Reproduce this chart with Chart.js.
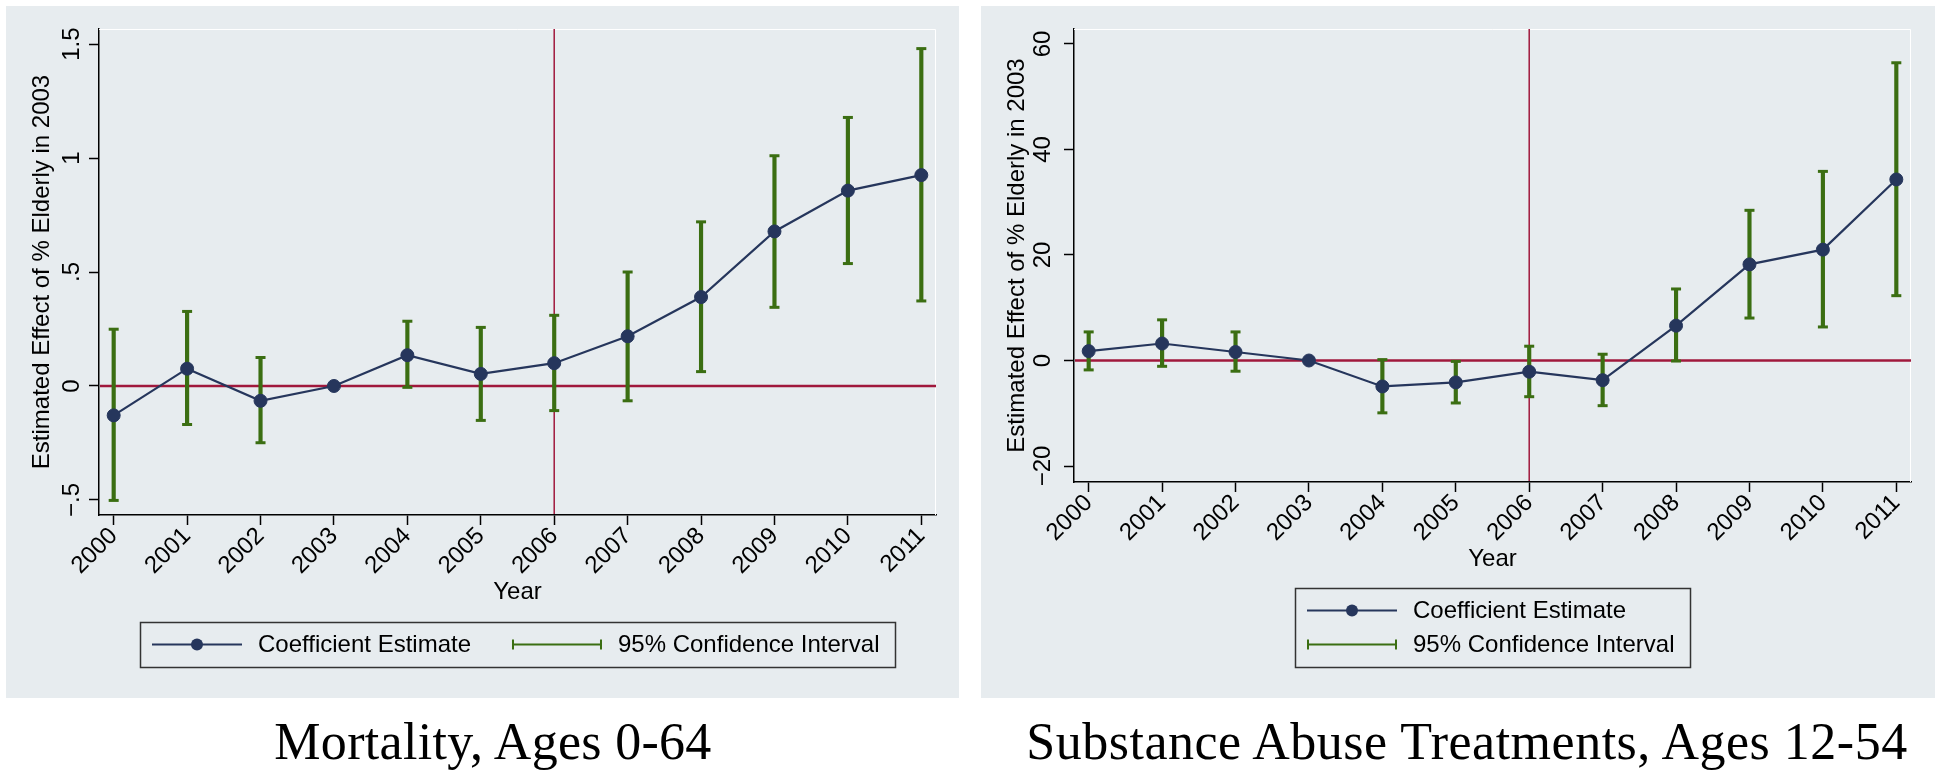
<!DOCTYPE html>
<html>
<head>
<meta charset="utf-8">
<script src="https://cdn.jsdelivr.net/npm/chart.js@4.4.0/dist/chart.umd.min.js"></script>
<style>
  body { margin: 0; background: #fff; width: 1941px; height: 776px; position: relative; overflow: hidden; }
  .panel { position: absolute; top: 6px; height: 692px; background: #e7ecef; }
  .panel canvas { display: block; }
  .caption { position: absolute; top: 716px; width: 1000px; text-align: center;
             font-family: "Liberation Serif", "Times New Roman", serif; font-size: 52px; line-height: 52px; color: #000; }
</style>
</head>
<body>
<div class="panel" style="left:6px;width:953px"><canvas id="mort" width="953" height="692"></canvas></div>
<div class="panel" style="left:981px;width:954px"><canvas id="subs" width="954" height="692"></canvas></div>
<div class="caption" id="cap1" style="left:-7px;letter-spacing:0.3px"></div>
<div class="caption" id="cap2" style="left:967px;letter-spacing:0.5px"></div>
<script>
// data
const years = [2000, 2001, 2002, 2003, 2004, 2005, 2006, 2007, 2008, 2009, 2010, 2011];

const mortCoef = [-0.129, 0.076, -0.065, 0, 0.135, 0.053, 0.100, 0.218, 0.390, 0.678, 0.857, 0.925];
const mortLow  = [-0.502, -0.169, -0.249, 0, -0.006, -0.151, -0.108, -0.065, 0.063, 0.345, 0.537, 0.373];
const mortHigh = [0.249, 0.327, 0.125, 0, 0.284, 0.257, 0.310, 0.500, 0.720, 1.010, 1.178, 1.480];
const mortYTicks  = [-0.5, 0, 0.5, 1, 1.5];
const mortYLabels = ["\u2212.5", "0", ".5", "1", "1.5"];

const subsCoef = [1.78, 3.22, 1.61, 0, -4.92, -4.15, -2.12, -3.73, 6.61, 18.22, 21.02, 34.32];
const subsLow  = [-1.78, -1.10, -2.03, 0, -9.92, -8.05, -6.86, -8.56, -0.1, 8.05, 6.36, 12.29];
const subsHigh = [5.42, 7.71, 5.42, 0, 0.17, -0.17, 2.71, 1.19, 13.56, 28.47, 35.85, 56.44];
const subsYTicks  = [-20, 0, 20, 40, 60];
const subsYLabels = ["\u221220", "0", "20", "40", "60"];

const refYear = 2006;
const refZero = 0;

const legendLabels = ["Coefficient Estimate", "95% Confidence Interval"];
const xTitle = "Year";
const yTitle = "Estimated Effect of % Elderly in 2003";
const panelTitles = ["Mortality, Ages 0-64", "Substance Abuse Treatments, Ages 12-54"];

const navy = "#26365c";
const green = "#3b6e12";
const red = "#a0183c";
const sans = '"Liberation Sans", Arial, Helvetica, sans-serif';

Chart.defaults.font.family = sans;
Chart.defaults.color = "#000";

document.getElementById("cap1").textContent = panelTitles[0];
document.getElementById("cap2").textContent = panelTitles[1];

// red reference lines + white plot outline, under the data
const refLines = {
  id: "refLines",
  beforeDatasetsDraw(chart) {
    const { ctx, chartArea: a, scales: { x, y } } = chart;
    ctx.save();
    ctx.strokeStyle = "#fff";
    ctx.lineWidth = 1;
    ctx.beginPath();
    ctx.moveTo(a.left, a.top + 0.5);
    ctx.lineTo(a.right - 0.5, a.top + 0.5);
    ctx.lineTo(a.right - 0.5, a.bottom);
    ctx.stroke();

    ctx.strokeStyle = red;
    ctx.lineWidth = 2.5;
    const py = y.getPixelForValue(refZero);
    ctx.beginPath();
    ctx.moveTo(a.left + 1, py);
    ctx.lineTo(a.right, py);
    ctx.stroke();
    ctx.lineWidth = 1.5;
    const px = x.getPixelForValue(refYear);
    ctx.beginPath();
    ctx.moveTo(px, a.top);
    ctx.lineTo(px, a.bottom - 1);
    ctx.stroke();
    ctx.restore();
  }
};

function drawGlyph(ctx, k, gx, cy, w) {
  ctx.save();
  if (k === 0) {
    ctx.strokeStyle = navy;
    ctx.lineWidth = 2;
    ctx.beginPath();
    ctx.moveTo(gx, cy);
    ctx.lineTo(gx + w, cy);
    ctx.stroke();
    ctx.fillStyle = navy;
    ctx.beginPath();
    ctx.arc(gx + w / 2, cy, 6, 0, Math.PI * 2);
    ctx.fill();
  } else {
    ctx.strokeStyle = green;
    ctx.lineWidth = 2;
    ctx.beginPath();
    ctx.moveTo(gx, cy);
    ctx.lineTo(gx + w, cy);
    ctx.moveTo(gx + 1, cy - 5);
    ctx.lineTo(gx + 1, cy + 5);
    ctx.moveTo(gx + w - 1, cy - 5);
    ctx.lineTo(gx + w - 1, cy + 5);
    ctx.stroke();
  }
  ctx.restore();
}

// boxed legend like Stata's
const boxLegend = {
  id: "boxLegend",
  afterDraw(chart, args, opts) {
    const { ctx, chartArea: a } = chart;
    const glyphW = 90, gap = 16, colGap = 41, padL = 12, padR = 16, rowH = 34;
    ctx.save();
    ctx.font = "24px " + sans;
    const rowWidth = row => row.reduce((w, k, j) =>
      w + (j ? colGap : 0) + glyphW + gap + ctx.measureText(legendLabels[k]).width, 0);
    const boxW = Math.round(padL + Math.max(...opts.rows.map(rowWidth)) + padR);
    const boxH = opts.rows.length * rowH + 11;
    const bottom = chart.height - 31;
    const top = bottom - boxH;
    const left = Math.round((a.left + a.right) / 2 - boxW / 2);
    ctx.strokeStyle = "#333";
    ctx.lineWidth = 1.5;
    ctx.strokeRect(left + 0.5, top + 0.5, boxW, boxH);
    opts.rows.forEach((row, r) => {
      const cy = top + 5.5 + rowH * r + rowH / 2;
      let gx = left + padL;
      row.forEach(k => {
        drawGlyph(ctx, k, gx, cy, glyphW);
        ctx.fillStyle = "#000";
        ctx.textAlign = "left";
        ctx.textBaseline = "middle";
        ctx.fillText(legendLabels[k], gx + glyphW + gap, cy + 1);
        gx += glyphW + gap + ctx.measureText(legendLabels[k]).width + colGap;
      });
    });
    ctx.restore();
  }
};

function buildChart(id, coef, low, high, yMin, yMax, yTicks, yLabels, rows, padBottom) {
  const canvas = document.getElementById(id);
  const axisGrid = { display: true, offset: false, drawOnChartArea: false, drawTicks: true,
                     tickLength: 10, tickWidth: 1.5, tickColor: "#000" };
  const axisBorder = { display: true, color: "#000", width: 1.5 };
  return new Chart(canvas, {
    type: "line",
    data: {
      datasets: [
        {
          type: "line",
          label: legendLabels[0],
          data: years.map((x, i) => ({ x, y: coef[i] })),
          borderColor: navy,
          borderWidth: 2.2,
          pointRadius: 6.5,
          pointBackgroundColor: navy,
          pointBorderColor: navy,
          pointBorderWidth: 1,
          order: 0
        },
        {
          type: "line",
          data: years.map((x, i) => ({ x, y: high[i] })),
          showLine: false,
          pointStyle: "line",
          pointRadius: 5,
          pointBorderWidth: 3,
          pointBorderColor: green,
          order: 1
        },
        {
          type: "line",
          data: years.map((x, i) => ({ x, y: low[i] })),
          showLine: false,
          pointStyle: "line",
          pointRadius: 5,
          pointBorderWidth: 3,
          pointBorderColor: green,
          order: 1
        },
        {
          type: "bar",
          label: legendLabels[1],
          data: years.map((x, i) => ({ x, y: [low[i], high[i]] })),
          backgroundColor: green,
          barThickness: 3.5,
          order: 2
        }
      ]
    },
    options: {
      responsive: false,
      animation: false,
      events: [],
      layout: { padding: { top: 23, right: canvas.width - 930, bottom: padBottom, left: 0 } },
      plugins: {
        legend: { display: false },
        tooltip: { enabled: false },
        boxLegend: { rows }
      },
      scales: {
        x: {
          type: "linear",
          offset: false,
          min: 1999.8,
          max: 2011.2,
          afterBuildTicks: s => { s.ticks = years.map(v => ({ value: v })); },
          afterFit: s => { s.height = 92; },
          ticks: { minRotation: 45, maxRotation: 45, autoSkip: false, padding: -3,
                   font: { size: 24 }, callback: v => String(v) },
          grid: axisGrid,
          border: axisBorder,
          title: { display: true, text: xTitle, font: { size: 24 }, padding: { top: 0, bottom: 0 } }
        },
        y: {
          min: yMin,
          max: yMax,
          afterBuildTicks: s => { s.ticks = yTicks.map(v => ({ value: v })); },
          afterFit: s => { s.width = 93; },
          ticks: { minRotation: 90, maxRotation: 90, crossAlign: "center", padding: 0,
                   font: { size: 24 }, callback: v => yLabels[yTicks.indexOf(v)] },
          grid: axisGrid,
          border: axisBorder,
          title: { display: true, text: yTitle, font: { size: 24 }, padding: { top: 22, bottom: 0 } }
        }
      }
    },
    plugins: [refLines, boxLegend]
  });
}

buildChart("mort", mortCoef, mortLow, mortHigh, -0.566, 1.566, mortYTicks, mortYLabels, [[0, 1]], 91);
buildChart("subs", subsCoef, subsLow, subsHigh, -23.03, 62.84, subsYTicks, subsYLabels, [[0], [1]], 124);
</script>
</body>
</html>
